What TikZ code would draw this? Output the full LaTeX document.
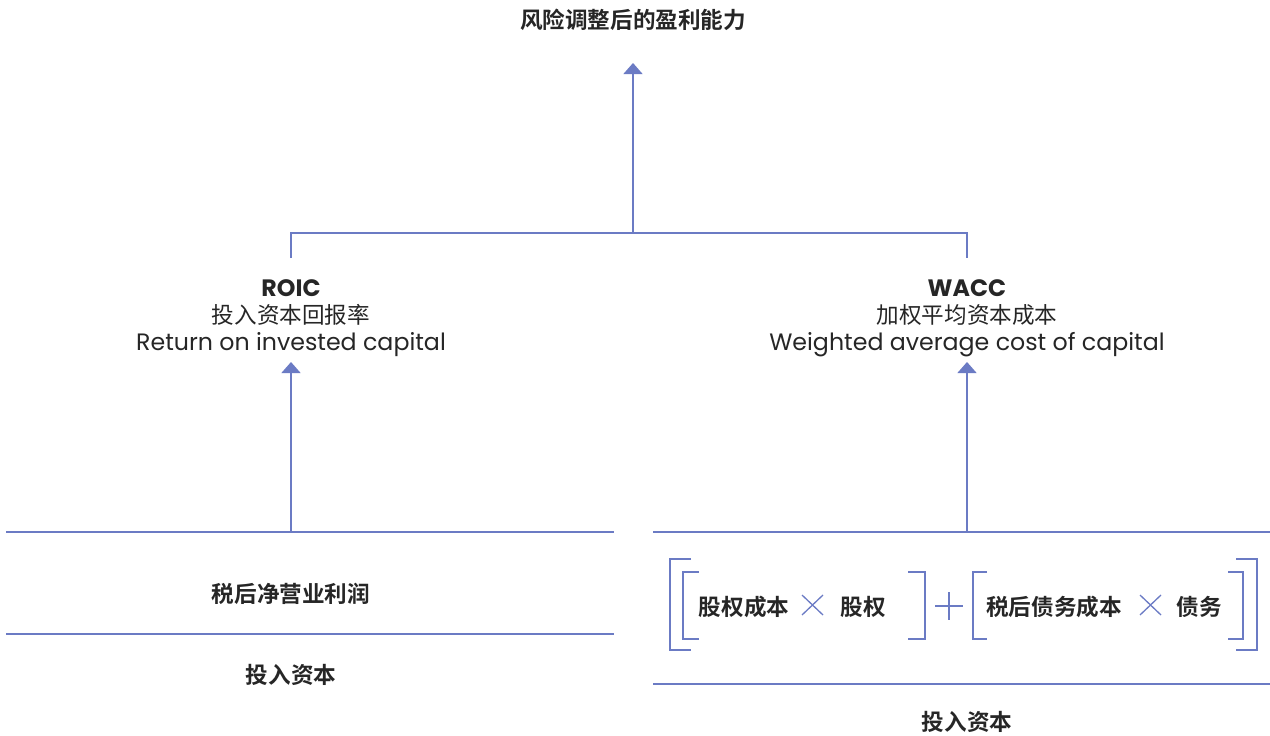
\documentclass[tikz,border=0pt]{standalone}
\usepackage{fontspec}
\setmainfont{Poppins}
\newfontfamily\cjk{Noto Sans CJK SC}[BoldFont={Noto Sans CJK SC Bold}]
\usetikzlibrary{arrows.meta}
\definecolor{ln}{HTML}{6B7BC4}
\definecolor{tx}{HTML}{262626}
\begin{document}
\begin{tikzpicture}[x=1pt,y=-1pt,
  thin line/.style={draw=ln,line width=1.3pt},
  thick line/.style={draw=ln,line width=2.8pt},
  brk/.style={draw=ln,line width=2.3pt},
  arr/.style={draw=ln,line width=1.3pt,-{Triangle[width=19pt,length=11pt]}},
  lbl/.style={text=tx,inner sep=0pt,font=\cjk\bfseries\fontsize{22.6}{27}\selectfont},
  blk/.style={text=tx,inner sep=0pt,align=center,font=\fontsize{23.7}{27}\selectfont}]
\useasboundingbox (0,0) rectangle (1270,736);
% title
\node[lbl] (title) at (633,20) {风险调整后的盈利能力};
\coordinate (join) at (633,233);
\coordinate (titletip) at (633,63);
\coordinate (jl) at (291,233);
\coordinate (jr) at (967,233);
\coordinate (jld) at (291,258);
\coordinate (jrd) at (967,258);
\draw[arr] (join) -- (titletip);
\draw[thin line] (jld) -- (jl) -- (jr) -- (jrd);
% ROIC / WACC
\node[blk] (roic) at (291,318) {{\bfseries ROIC}\\[0pt]{\cjk\fontsize{22.6}{27}\selectfont 投入资本回报率}\\[0pt]Return on invested capital};
\node[blk] (wacc) at (967,318) {{\bfseries WACC}\\[0pt]{\cjk\fontsize{22.6}{27}\selectfont 加权平均资本成本}\\[0pt]Weighted average cost of capital};
\coordinate (roictip) at (291,362);
\coordinate (wacctip) at (967,362);
\coordinate (lbase) at (291,532);
\coordinate (rbase) at (967,532);
\draw[arr] (lbase) -- (roictip);
\draw[arr] (rbase) -- (wacctip);
% left fraction
\coordinate (l1a) at (6,532); \coordinate (l1b) at (614,532);
\coordinate (l2a) at (6,634); \coordinate (l2b) at (614,634);
\draw[thin line] (l1a) -- (l1b);
\draw[thick line] (l2a) -- (l2b);
\node[lbl] (nopat) at (291,594) {税后净营业利润};
\node[lbl] (ic1) at (291,675) {投入资本};
% right fraction
\coordinate (r1a) at (653,532); \coordinate (r1b) at (1270,532);
\coordinate (r2a) at (653,684); \coordinate (r2b) at (1270,684);
\draw[thin line] (r1a) -- (r1b);
\draw[thick line] (r2a) -- (r2b);
\node[lbl] (ic2) at (967,722) {投入资本};
% brackets
\draw[brk] (691,559) -- (670,559) -- (670,650) -- (691,650);
\draw[brk] (699,572) -- (683,572) -- (683,639) -- (699,639);
\draw[brk] (908,572) -- (925,572) -- (925,639) -- (908,639);
\draw[brk] (987,572) -- (973,572) -- (973,639) -- (987,639);
\draw[brk] (1228,572) -- (1243,572) -- (1243,639) -- (1228,639);
\draw[brk] (1236,559) -- (1257,559) -- (1257,650) -- (1236,650);
\node[lbl] (ke) at (744,607) {股权成本};
\node[lbl] (eq) at (863,607) {股权};
\node[lbl] (kd) at (1054,607) {税后债务成本};
\node[lbl] (debt) at (1199,607) {债务};
% operators
\draw[thin line] (802,595) -- (823,615) (802,615) -- (823,595);
\draw[thin line] (1140,595) -- (1161,615) (1140,615) -- (1161,595);
\draw[thin line] (935,606) -- (963,606) (949,592) -- (949,620);
\end{tikzpicture}
\end{document}
